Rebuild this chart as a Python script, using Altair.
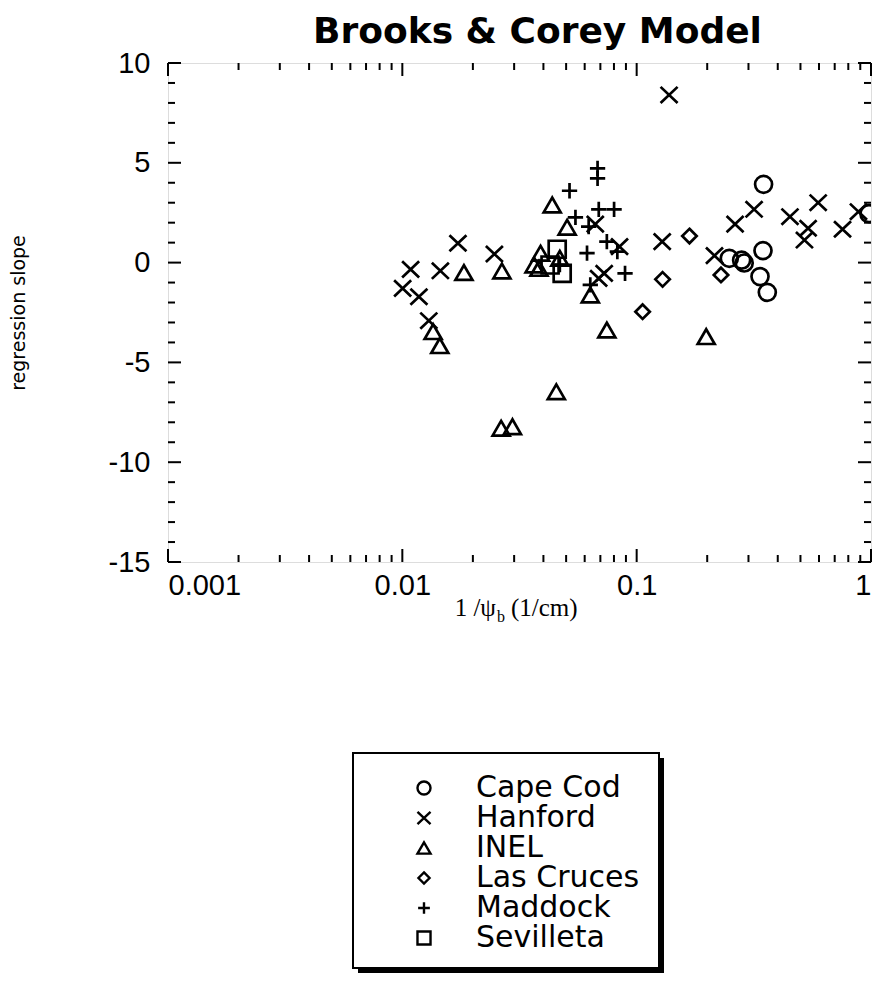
import altair as alt
import pandas as pd

# ---------------- data ----------------
sites = ["Cape Cod", "Hanford", "INEL", "Las Cruces", "Maddock", "Sevilleta"]

cape_cod_x = [0.2485, 0.2805, 0.2877, 0.348, 0.346, 0.336, 0.361, 0.98]
cape_cod_y = [0.21, 0.12, -0.02, 3.92, 0.6, -0.7, -1.49, 2.45]

hanford_x = [0.01003, 0.01085, 0.01177, 0.01297, 0.01453, 0.01727, 0.02471,
             0.06658, 0.0845, 0.07267, 0.06882, 0.1375, 0.1285, 0.2148,
             0.263, 0.317, 0.451, 0.539, 0.52, 0.595, 0.756, 0.884]
hanford_y = [-1.29, -0.34, -1.71, -2.91, -0.41, 0.97, 0.43,
             1.93, 0.8, -0.54, -0.79, 8.4, 1.05, 0.35,
             1.93, 2.67, 2.3, 1.72, 1.13, 3.0, 1.67, 2.55]

inel_x = [0.01353, 0.01445, 0.01832, 0.0266, 0.0264, 0.0295, 0.0365, 0.0383,
          0.0389, 0.0436, 0.0454, 0.047, 0.0505, 0.0634, 0.0746, 0.198]
inel_y = [-3.46, -4.16, -0.5, -0.42, -8.3, -8.22, -0.12, -0.29,
          0.47, 2.89, -6.47, 0.21, 1.77, -1.62, -3.38, -3.71]

las_cruces_x = [0.168, 0.129, 0.106, 0.229]
las_cruces_y = [1.33, -0.84, -2.46, -0.62]

maddock_x = [0.0517, 0.0548, 0.0681, 0.0681, 0.0689, 0.0801, 0.0624,
             0.0614, 0.0746, 0.0827, 0.0892, 0.0634, 0.047]
maddock_y = [3.6, 2.27, 4.72, 4.22, 2.67, 2.67, 1.8,
             0.47, 1.05, 0.55, -0.54, -1.12, -0.1]

sevilleta_x = [0.0458, 0.0481, 0.0427]
sevilleta_y = [0.67, -0.54, -0.12]

# axis ticks
x_major_ticks = [0.001, 0.01, 0.1, 1]
x_minor_ticks = [0.002, 0.003, 0.004, 0.005, 0.006, 0.007, 0.008, 0.009,
                 0.02, 0.03, 0.04, 0.05, 0.06, 0.07, 0.08, 0.09,
                 0.2, 0.3, 0.4, 0.5, 0.6, 0.7, 0.8, 0.9]
y_major_ticks = [-15, -10, -5, 0, 5, 10]
y_minor_ticks = [-14, -13, -12, -11, -9, -8, -7, -6, -4, -3, -2, -1,
                 1, 2, 3, 4, 6, 7, 8, 9]

# ---------------- build table ----------------
series = [(cape_cod_x, cape_cod_y), (hanford_x, hanford_y), (inel_x, inel_y),
          (las_cruces_x, las_cruces_y), (maddock_x, maddock_y),
          (sevilleta_x, sevilleta_y)]
rows = []
for name, (xs, ys) in zip(sites, series):
    for a, b in zip(xs, ys):
        rows.append({"x": a, "y": b, "site": name})
df = pd.DataFrame(rows)

W, H = 703, 499
SANS = "DejaVu Sans"
TICKFONT = "Liberation Sans"

shape_range = [
    "circle",
    "M-1,-0.95L1,0.95M-1,0.95L1,-0.95",
    "triangle-up",
    "M0,-0.85L0.85,0L0,0.85L-0.85,0Z",
    "M-0.9,0L0.9,0M0,-0.9L0,0.9",
    "square",
]

xscale = alt.Scale(type="log", domain=[0.001, 1])
yscale = alt.Scale(domain=[-15, 10], nice=False, zero=False)

x_axis = alt.Axis(values=x_major_ticks, format="~g", ticks=False, tickSize=0,
                  domain=False, grid=False, labelFont=TICKFONT, labelFontSize=29,
                  labelColor="black", labelPadding=9, title=None)
y_axis = alt.Axis(values=y_major_ticks, ticks=False, tickSize=0, domain=False,
                  grid=False, labelFont=TICKFONT, labelFontSize=29,
                  labelColor="black", labelPadding=18,
                  labelExpr="datum.value < 0 ? '-' + abs(datum.value) : '' + datum.value",
                  title="regression slope", titleFont=SANS,
                  titleFontSize=19, titleFontWeight="normal",
                  titleColor="black", titleX=-150, titleY=H / 2,
                  titleAlign="center", titleBaseline="middle")

points = alt.Chart(df).mark_point(
    filled=False, size=289, strokeWidth=2.7, color="black", opacity=1, clip=True
).encode(
    x=alt.X("x:Q", scale=xscale, axis=x_axis),
    y=alt.Y("y:Q", scale=yscale, axis=y_axis),
    shape=alt.Shape("site:N", scale=alt.Scale(domain=sites, range=shape_range),
                    legend=alt.Legend(orient="none", legendX=241, legendY=710,
                                      title=None, labelFont=SANS, labelFontSize=30,
                                      labelColor="black", labelLimit=400,
                                      symbolSize=170,
                                      symbolStrokeWidth=2.4, symbolStrokeColor="black",
                                      rowPadding=0, labelOffset=37, padding=0,
                                      zindex=1)),
)

def xticks(vals, y0, y1):
    return alt.Chart(pd.DataFrame({"x": vals})).mark_rule(
        color="black", strokeWidth=2).encode(
        x=alt.X("x:Q", scale=xscale, axis=x_axis),
        y=alt.value(y0), y2=alt.value(y1))

def yticks(vals, x0, x1):
    return alt.Chart(pd.DataFrame({"y": vals})).mark_rule(
        color="black", strokeWidth=2).encode(
        y=alt.Y("y:Q", scale=yscale, axis=y_axis),
        x=alt.value(x0), x2=alt.value(x1))

ticks = [
    xticks(x_major_ticks, H, H - 13), xticks(x_minor_ticks, H, H - 7),
    xticks(x_major_ticks, 0, 13), xticks(x_minor_ticks, 0, 7),
    yticks(y_major_ticks, 0, 13), yticks(y_minor_ticks, 0, 7),
    yticks(y_major_ticks, W, W - 13), yticks(y_minor_ticks, W, W - 7),
]

one = pd.DataFrame({"k": [0]})

def label(text, x, y, size, align, font="Liberation Serif"):
    return alt.Chart(one).mark_text(
        text=text, font=font, fontSize=size, align=align, baseline="alphabetic",
        color="black").encode(x=alt.value(x), y=alt.value(y))

xtitle = [
    label("1 /\u03c8", 328, 553, 25, "right"),
    label("b", 329, 559, 16, "left"),
    label("(1/cm)", 343, 553, 25, "left"),
]

# legend frame with drop shadow
def rect(x0, x1, y0, y1, **kw):
    return alt.Chart(one).mark_rect(**kw).encode(
        x=alt.value(x0), x2=alt.value(x1), y=alt.value(y0), y2=alt.value(y1))

legend_box = [
    rect(490, 496, 695, 910, fill="black"),
    rect(190, 496, 904, 910, fill="black"),
    rect(185, 491, 690, 905, fill="transparent", stroke="black", strokeWidth=2),
]

chart = alt.layer(points, *ticks, *xtitle, *legend_box).properties(
    width=W, height=H,
    title=alt.TitleParams("Brooks & Corey Model", font=SANS, fontSize=36,
                          fontWeight="bold", color="black", anchor="middle",
                          frame="group", offset=15, dx=18, dy=17),
    padding={"left": 160, "top": 55, "right": 6, "bottom": 411},
    autosize=alt.AutoSizeParams(type="none"),
).configure_view(stroke="black", strokeWidth=2.5).configure(background="white")

chart.save("out.html", embed_options={"renderer": "svg", "actions": False})
